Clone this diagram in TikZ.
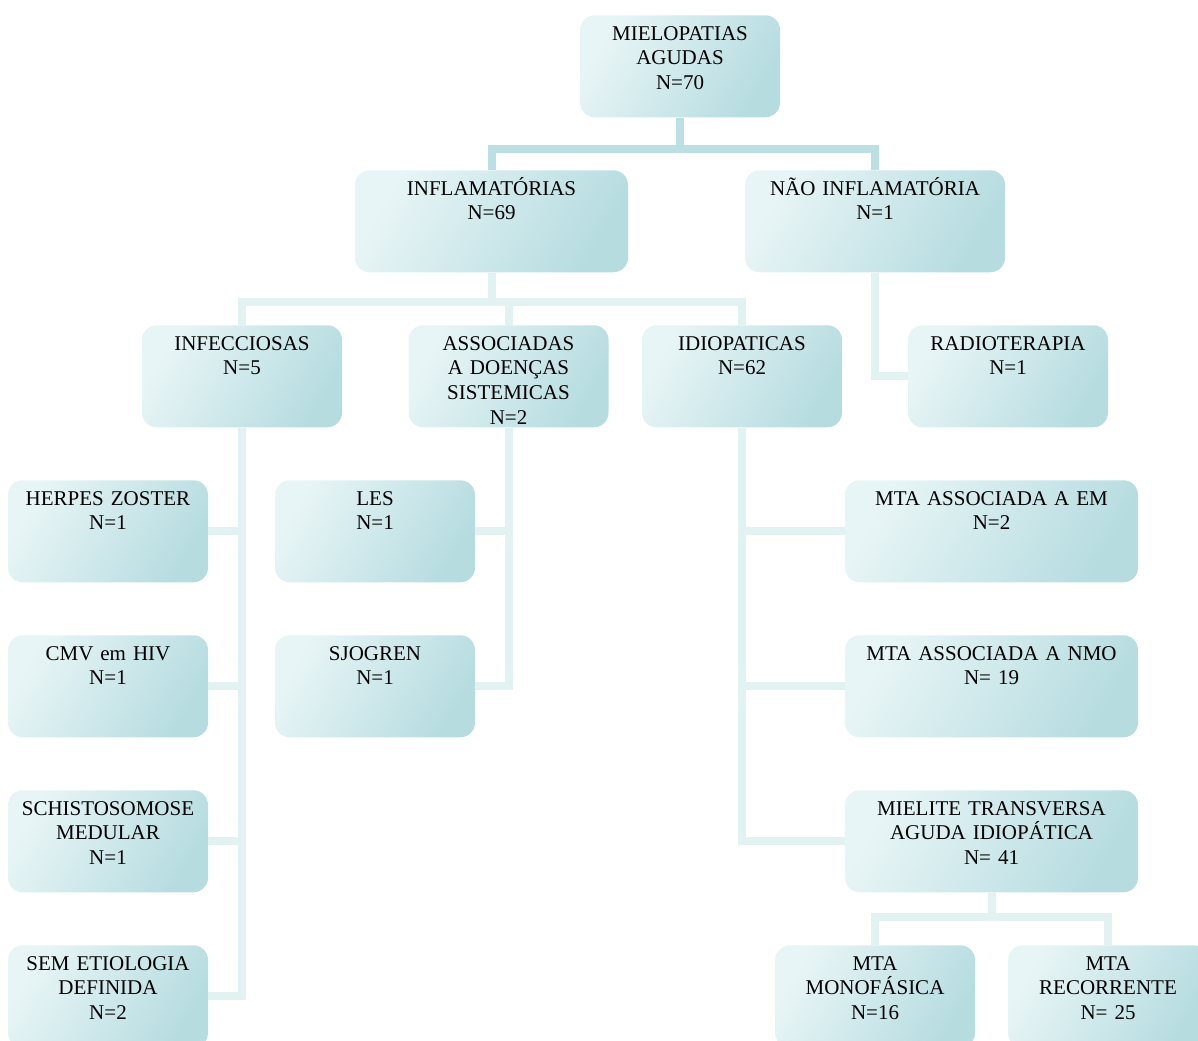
\documentclass[tikz,border=0pt]{standalone}
\usepackage{fontspec}
\setmainfont{Liberation Serif}
\usepackage{xcolor}

\definecolor{boxlight}{HTML}{E8F5F6}
\definecolor{boxdark}{HTML}{B6DCE0}
\definecolor{linkstrong}{HTML}{BBDFE3}
\definecolor{linksoft}{HTML}{E2F2F3}

\tikzset{
  caixa/.style={rectangle, rounded corners=11pt, anchor=north, align=center,
    top color=boxlight, bottom color=boxdark, shading angle=60,
    inner xsep=0pt, inner ysep=0pt, text height=18.75pt, text depth=57.75pt,
    text width=150pt, font=\fontsize{15.75pt}{18.5pt}\selectfont},
  larga/.style={text width=#1},
  ligacao/.style={line width=6pt, draw=linksoft},
  ligacaoforte/.style={line width=6pt, draw=linkstrong}
}

\begin{document}
\begin{tikzpicture}[x=0.75pt, y=-0.75pt]

    \clip (0,0) rectangle (1198,1040);

    % Nodes
    \node[caixa] (mielo) at (680, 15) {MIELOPATIAS\\AGUDAS\\N=70};
    \node[caixa, larga=204.75pt] (inflam) at (491.5, 170) {INFLAMATÓRIAS\\N=69};
    \node[caixa, larga=195pt] (naoinf) at (875, 170) {NÃO INFLAMATÓRIA\\N=1};
    \node[caixa] (infec) at (242, 325) {INFECCIOSAS\\N=5};
    \node[caixa] (assoc) at (508.5, 325) {ASSOCIADAS\\A DOENÇAS\\SISTEMICAS\\N=2};
    \node[caixa] (idio) at (742, 325) {IDIOPATICAS\\N=62};
    \node[caixa] (radio) at (1008, 325) {RADIOTERAPIA\\N=1};
    \node[caixa] (herpes) at (108, 480) {HERPES ZOSTER\\N=1};
    \node[caixa] (les) at (375, 480) {LES\\N=1};
    \node[caixa, larga=219.75pt] (mtaem) at (991.5, 480) {MTA ASSOCIADA A EM\\N=2};
    \node[caixa] (cmv) at (108, 635) {CMV em HIV\\N=1};
    \node[caixa] (sjogren) at (375, 635) {SJOGREN\\N=1};
    \node[caixa, larga=219.75pt] (mtanmo) at (991.5, 635) {MTA ASSOCIADA A NMO\\N= 19};
    \node[caixa] (schisto) at (108, 790) {SCHISTOSOMOSE\\MEDULAR\\N=1};
    \node[caixa, larga=219.75pt] (mielite) at (991.5, 790) {MIELITE TRANSVERSA\\AGUDA IDIOPÁTICA\\N= 41};
    \node[caixa] (semetio) at (108, 945) {SEM ETIOLOGIA\\DEFINIDA\\N=2};
    \node[caixa] (mono) at (875, 945) {MTA\\MONOFÁSICA\\N=16};
    \node[caixa] (recor) at (1108, 945) {MTA\\RECORRENTE\\N= 25};

    % Edges
    \draw[ligacaoforte] (mielo.south) -- ++(0,31) -| (inflam.north);
    \draw[ligacaoforte] (mielo.south) -- ++(0,31) -| (naoinf.north);
    \draw[ligacao] (inflam.south) -- ++(0,29) -| (infec.north);
    \draw[ligacao] (inflam.south) -- ++(0,29) -| (assoc.north);
    \draw[ligacao] (inflam.south) -- ++(0,29) -| (idio.north);
    \draw[ligacao] (naoinf.south) |- (radio.west);
    \draw[ligacao] (infec.south) |- (herpes.east);
    \draw[ligacao] (infec.south) |- (cmv.east);
    \draw[ligacao] (infec.south) |- (schisto.east);
    \draw[ligacao] (infec.south) |- (semetio.east);
    \draw[ligacao] (assoc.south) |- (les.east);
    \draw[ligacao] (assoc.south) |- (sjogren.east);
    \draw[ligacao] (idio.south) |- (mtaem.west);
    \draw[ligacao] (idio.south) |- (mtanmo.west);
    \draw[ligacao] (idio.south) |- (mielite.west);
    \draw[ligacao] (mielite.south) -- ++(0,24) -| (mono.north);
    \draw[ligacao] (mielite.south) -- ++(0,24) -| (recor.north);

\end{tikzpicture}
\end{document}
